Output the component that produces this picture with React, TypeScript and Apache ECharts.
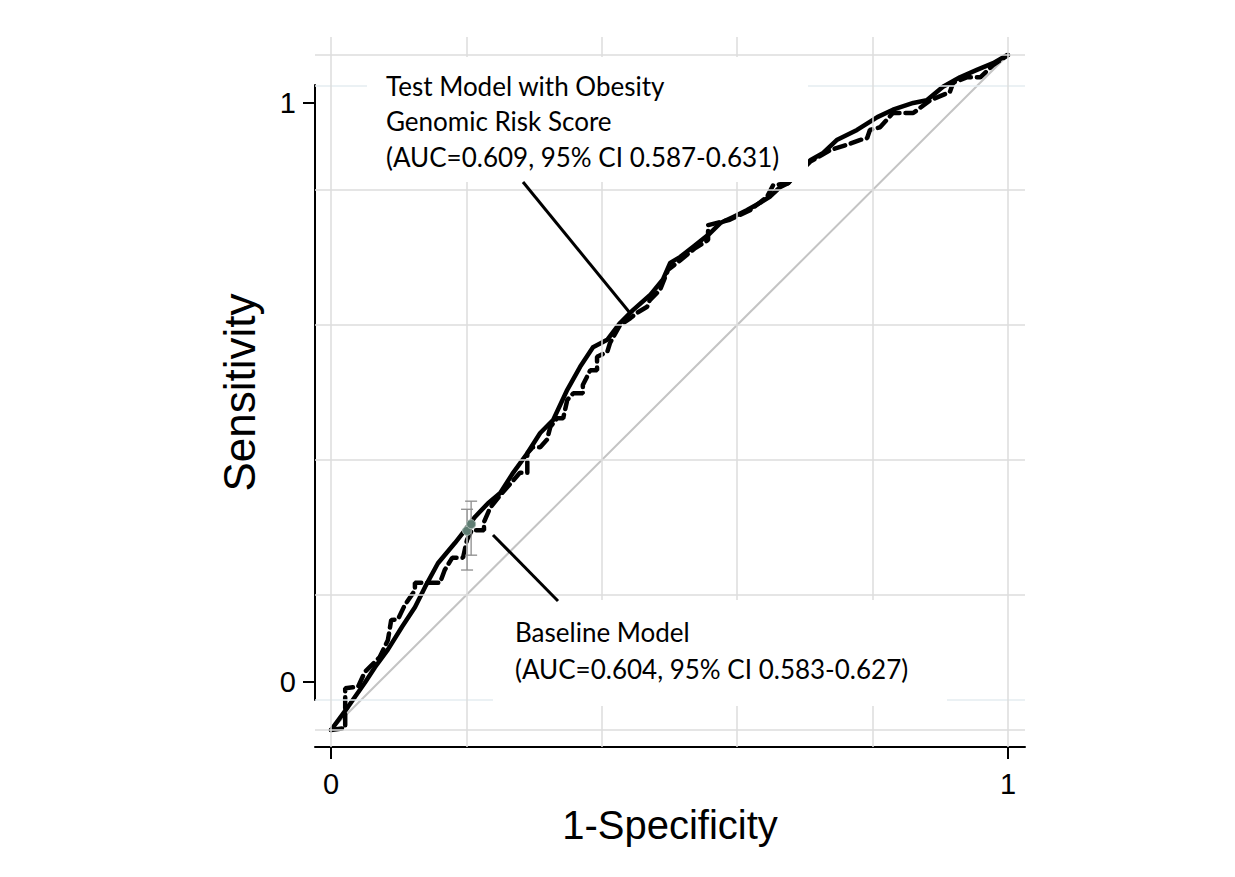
import React, { useEffect, useRef } from "react";
import * as echarts from "echarts";

// ---- data ----
const X_TICKS = [0, 1];
const Y_TICKS = [0, 1];
const GRID_STEPS = [0, 0.2, 0.4, 0.6, 0.8, 1];
const DIAGONAL = [[0, 0], [1, 1]];

const TEST_MODEL: number[][] = [
  [0, 0], [0.003, 0.004], [0.025, 0.034], [0.05, 0.07], [0.065, 0.093], [0.084, 0.119],
  [0.105, 0.153], [0.124, 0.182], [0.139, 0.212], [0.158, 0.247], [0.183, 0.277],
  [0.198, 0.296], [0.213, 0.316], [0.232, 0.336], [0.25, 0.351], [0.269, 0.381],
  [0.29, 0.41], [0.309, 0.44], [0.328, 0.459], [0.349, 0.504], [0.368, 0.538],
  [0.387, 0.567], [0.408, 0.578], [0.427, 0.603], [0.446, 0.622], [0.471, 0.644],
  [0.49, 0.667], [0.501, 0.692], [0.516, 0.701], [0.535, 0.716], [0.56, 0.736],
  [0.575, 0.751], [0.594, 0.76], [0.614, 0.77], [0.634, 0.781], [0.648, 0.79],
  [0.663, 0.804], [0.675, 0.81], [0.708, 0.844], [0.727, 0.855], [0.747, 0.874],
  [0.777, 0.889], [0.807, 0.908], [0.83, 0.919], [0.86, 0.929], [0.88, 0.933],
  [0.904, 0.953], [0.929, 0.967], [0.954, 0.978], [0.978, 0.988], [0.999, 1.0], [1, 1],
];

const BASELINE_MODEL: number[][] = [
  [0, 0], [0.021, 0.003], [0.021, 0.062], [0.04, 0.064], [0.05, 0.086], [0.072, 0.108],
  [0.084, 0.133], [0.089, 0.163], [0.099, 0.164], [0.109, 0.185], [0.124, 0.207],
  [0.124, 0.218], [0.161, 0.218], [0.168, 0.237], [0.179, 0.255], [0.195, 0.255],
  [0.201, 0.282], [0.208, 0.296], [0.226, 0.296], [0.226, 0.308], [0.235, 0.329],
  [0.25, 0.348], [0.272, 0.373], [0.279, 0.381], [0.29, 0.381], [0.29, 0.41],
  [0.298, 0.419], [0.309, 0.419], [0.319, 0.43], [0.324, 0.449], [0.334, 0.462],
  [0.343, 0.462], [0.349, 0.489], [0.358, 0.499], [0.372, 0.499], [0.372, 0.511],
  [0.383, 0.533], [0.393, 0.533], [0.393, 0.553], [0.408, 0.56], [0.412, 0.573],
  [0.427, 0.6], [0.442, 0.61], [0.452, 0.618], [0.467, 0.627], [0.471, 0.637],
  [0.486, 0.652], [0.498, 0.682], [0.516, 0.696], [0.538, 0.714], [0.557, 0.726],
  [0.557, 0.748], [0.589, 0.756], [0.619, 0.77], [0.644, 0.79], [0.653, 0.807],
  [0.675, 0.81], [0.708, 0.842], [0.737, 0.859], [0.762, 0.867], [0.781, 0.874],
  [0.792, 0.877], [0.796, 0.889], [0.811, 0.893], [0.821, 0.904], [0.83, 0.914],
  [0.86, 0.914], [0.885, 0.933], [0.914, 0.945], [0.919, 0.959], [0.939, 0.967],
  [0.959, 0.967], [0.978, 0.985], [1, 1],
];

// operating points with 95% CI (x, y, lower, upper)
const OP_X = [0.201, 0.207];
const OP_Y = [0.295, 0.305];
const OP_LO = [0.237, 0.259];
const OP_HI = [0.327, 0.339];

const TEST_LABEL = [
  "Test Model with Obesity",
  "Genomic Risk Score",
  "(AUC=0.609, 95% CI 0.587-0.631)",
];
const BASE_LABEL = ["Baseline Model", "(AUC=0.604, 95% CI 0.583-0.627)"];

const X_NAME = "1-Specificity";
const Y_NAME = "Sensitivity";

// axis ranges (plot region padding as in the reference)
const X_MIN = -0.0236;
const X_MAX = 1.0251;
const Y_MIN = -0.0252;
const Y_MAX = 1.0267;
const Y2_MIN = -0.0311;
const Y2_MAX = 1.0311;

const AXIS_FONT = "'Liberation Sans', Arial, sans-serif";
const NOTE_FONT = "Lato, 'Open Sans', sans-serif";

export default function App() {
  const ref = useRef<HTMLDivElement>(null);

  useEffect(() => {
    document.body.style.margin = "0";
    if (!ref.current) return;
    const chart = echarts.init(ref.current, null, { renderer: "svg" });

    const opData = OP_X.map((x, i) => [x, OP_LO[i], OP_HI[i], OP_Y[i]]);

    const option: any = {
      animation: false,
      backgroundColor: "#ffffff",
      grid: [
        { left: 315, top: 37, width: 710, height: 710, containLabel: false },
        { left: 315, top: 85, width: 710, height: 615, containLabel: false },
      ],
      xAxis: [
        {
          type: "value",
          gridIndex: 0,
          min: X_MIN,
          max: X_MAX,
          name: X_NAME,
          nameLocation: "middle",
          nameGap: 58,
          nameTextStyle: { fontFamily: AXIS_FONT, fontSize: 40, color: "#000" },
          axisLine: { show: true, onZero: false, lineStyle: { color: "#000", width: 2 } },
          axisTick: { show: true, length: 12, lineStyle: { color: "#000", width: 2 }, customValues: X_TICKS },
          axisLabel: {
            show: true,
            margin: 22,
            fontFamily: AXIS_FONT,
            fontSize: 29,
            color: "#000",
            customValues: X_TICKS,
            formatter: (v: number) => String(v),
          },
          splitLine: { show: false },
        },
        {
          type: "value",
          gridIndex: 1,
          min: X_MIN,
          max: X_MAX,
          show: false,
        },
      ],
      yAxis: [
        {
          type: "value",
          gridIndex: 0,
          min: Y_MIN,
          max: Y_MAX,
          axisLine: { show: false },
          axisTick: { show: false },
          axisLabel: { show: false },
          splitLine: { show: false },
        },
        {
          type: "value",
          gridIndex: 1,
          min: Y2_MIN,
          max: Y2_MAX,
          name: Y_NAME,
          nameLocation: "middle",
          nameGap: 54,
          nameTextStyle: { fontFamily: AXIS_FONT, fontSize: 44, color: "#000" },
          axisLine: { show: true, onZero: false, lineStyle: { color: "#000", width: 2 } },
          axisTick: { show: true, length: 12, lineStyle: { color: "#000", width: 2 }, customValues: Y_TICKS },
          axisLabel: {
            show: true,
            margin: 19,
            fontFamily: AXIS_FONT,
            fontSize: 29,
            color: "#000",
            customValues: Y_TICKS,
            formatter: (v: number) => String(v),
          },
          splitLine: { show: false },
        },
      ],
      series: [
        {
          // second plot-region borders (light blue)
          type: "line",
          xAxisIndex: 1,
          yAxisIndex: 1,
          data: [],
          silent: true,
          z: 1,
          markLine: {
            silent: true,
            symbol: ["none", "none"],
            label: { show: false },
            lineStyle: { color: "#e4ecf0", width: 1.5, type: "solid" },
            data: [{ yAxis: Y2_MIN }, { yAxis: Y2_MAX }],
          },
        },
        {
          // reference diagonal + grid lines
          type: "line",
          xAxisIndex: 0,
          yAxisIndex: 0,
          data: DIAGONAL,
          symbol: "none",
          silent: true,
          z: 2,
          lineStyle: { color: "#c4c4c4", width: 2 },
          markLine: {
            silent: true,
            symbol: ["none", "none"],
            label: { show: false },
            lineStyle: { color: "#dcdcdc", width: 1.5, type: "solid" },
            data: [
              ...GRID_STEPS.map((v) => ({ xAxis: v })),
              ...GRID_STEPS.map((v) => ({ yAxis: v })),
            ],
          },
        },
        {
          name: "Baseline Model",
          type: "line",
          xAxisIndex: 0,
          yAxisIndex: 0,
          data: BASELINE_MODEL,
          symbol: "none",
          z: 3,
          lineStyle: { color: "#000", width: 4.5, type: [11, 6], cap: "round" },
        },
        {
          name: "Test Model",
          type: "line",
          xAxisIndex: 0,
          yAxisIndex: 0,
          data: TEST_MODEL,
          symbol: "none",
          z: 4,
          lineStyle: { color: "#000", width: 4.5, join: "round", cap: "round" },
        },
        {
          type: "custom",
          xAxisIndex: 0,
          yAxisIndex: 0,
          data: opData,
          z: 5,
          renderItem: (params: any, api: any) => {
            const x = api.value(0);
            const lo = api.value(1);
            const hi = api.value(2);
            const y = api.value(3);
            const top = api.coord([x, hi]);
            const bot = api.coord([x, lo]);
            const mid = api.coord([x, y]);
            const hw = 6;
            const st = { stroke: "#8c8c8c", lineWidth: 1.3 };
            return {
              type: "group",
              children: [
                { type: "line", shape: { x1: top[0], y1: top[1], x2: bot[0], y2: bot[1] }, style: st },
                { type: "line", shape: { x1: top[0] - hw, y1: top[1], x2: top[0] + hw, y2: top[1] }, style: st },
                { type: "line", shape: { x1: bot[0] - hw, y1: bot[1], x2: bot[0] + hw, y2: bot[1] }, style: st },
                {
                  type: "circle",
                  shape: { cx: mid[0], cy: mid[1], r: 4.5 },
                  style: { fill: "#5f7d73", stroke: "#a9bbb4", lineWidth: 1 },
                },
              ],
            };
          },
        },
      ],
      graphic: [
        {
          type: "rect",
          z: 100,
          silent: true,
          shape: { x: 367, y: 57, width: 441, height: 125 },
          style: { fill: "#ffffff" },
        },
        {
          type: "text",
          z: 101,
          silent: true,
          x: 386,
          y: 68,
          style: {
            text: TEST_LABEL.join("\n"),
            font: `26px ${NOTE_FONT}`,
            lineHeight: 35.5,
            fill: "#000",
          },
        },
        {
          type: "line",
          z: 101,
          silent: true,
          shape: { x1: 523, y1: 182, x2: 630, y2: 313 },
          style: { stroke: "#000", lineWidth: 3 },
        },
        {
          type: "rect",
          z: 100,
          silent: true,
          shape: { x: 493, y: 600, width: 454, height: 106 },
          style: { fill: "#ffffff" },
        },
        {
          type: "text",
          z: 101,
          silent: true,
          x: 515,
          y: 613,
          style: {
            text: BASE_LABEL.join("\n"),
            font: `26px ${NOTE_FONT}`,
            lineHeight: 37,
            fill: "#000",
          },
        },
        {
          type: "line",
          z: 101,
          silent: true,
          shape: { x1: 493, y1: 535, x2: 558, y2: 601 },
          style: { stroke: "#000", lineWidth: 3 },
        },
      ],
    };

    chart.setOption(option);
    return () => chart.dispose();
  }, []);

  return <div ref={ref} style={{ width: 1235, height: 877 }} />;
}
